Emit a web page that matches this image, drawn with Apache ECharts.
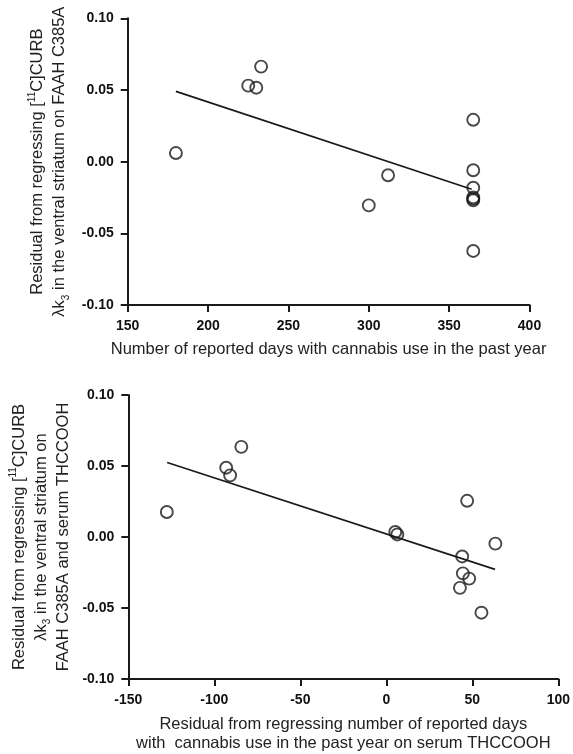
<!DOCTYPE html>
<html>
<head>
<meta charset="utf-8">
<script src="https://cdn.jsdelivr.net/npm/echarts@6/dist/echarts.min.js"></script>
<style>html,body{margin:0;padding:0;background:#fff;}#c{width:573px;height:754px;}</style>
</head>
<body>
<div id="c"></div>
<script>
// Panel A: days of cannabis use vs residual lambda k3
const daysUse = [180, 225, 230, 233, 300, 312, 365, 365, 365, 365, 365, 365, 365];
const residA  = [0.006, 0.053, 0.0516, 0.0663, -0.0305, -0.0095, 0.0292, -0.006, -0.0182, -0.025, -0.026, -0.027, -0.0623];
const fitAx = [180, 364];
const fitAy = [0.049, -0.0193];

// Panel B: residual days vs residual lambda k3
const residDays = [-127.6, -93.1, -90.8, -84.3, 5.2, 6.4, 47, 63.4, 44.1, 44.5, 48.2, 42.8, 55.3];
const residB    = [0.0176, 0.0488, 0.0434, 0.0635, 0.0035, 0.0018, 0.0255, -0.0047, -0.0137, -0.0256, -0.0293, -0.0358, -0.0533];
const fitBx = [-127.4, 63.2];
const fitBy = [0.0525, -0.0228];

const xTicksA = [150, 200, 250, 300, 350, 400];
const xTicksB = [-150, -100, -50, 0, 50, 100];
const yTicks = [-0.10, -0.05, 0.00, 0.05, 0.10];

const FONT = '"Liberation Sans", Arial, Helvetica, sans-serif';
const INK = '#1a1a1a';
const zip = (a, b) => a.map((v, i) => [v, b[i]]);

const richName = {
  t:   {fontSize: 16.5, lineHeight: 22, fontFamily: FONT, color: '#222'},
  sup: {fontSize: 10, lineHeight: 10, verticalAlign: 'top', fontFamily: FONT, color: '#222'},
  sub: {fontSize: 10, lineHeight: 10, verticalAlign: 'bottom', fontFamily: FONT, color: '#222'}
};

function xAxis(idx, ticks, name, gap, lh) {
  return {
    type: 'value', gridIndex: idx,
    min: ticks[0], max: ticks[ticks.length - 1], interval: ticks[1] - ticks[0],
    axisLine: {onZero: false, lineStyle: {color: INK, width: 2}},
    axisTick: {length: 7, lineStyle: {color: INK, width: 2}},
    splitLine: {show: false},
    axisLabel: {fontSize: 14, fontWeight: 'bold', fontFamily: FONT, color: '#111', margin: 14},
    name: name, nameLocation: 'middle', nameGap: gap,
    nameTextStyle: {fontSize: 16.5, fontFamily: FONT, color: '#222', lineHeight: lh}
  };
}
function yAxis(idx, name, gap) {
  return {
    type: 'value', gridIndex: idx,
    min: yTicks[0], max: yTicks[yTicks.length - 1], interval: 0.05,
    axisLine: {onZero: false, lineStyle: {color: INK, width: 2}},
    axisTick: {length: 7, lineStyle: {color: INK, width: 2}},
    splitLine: {show: false},
    axisLabel: {fontSize: 14, fontWeight: 'bold', fontFamily: FONT, color: '#111', margin: 14,
      formatter: v => v.toFixed(2)},
    name: name, nameLocation: 'middle', nameGap: gap, nameRotate: 90,
    nameTextStyle: {rich: richName}
  };
}
function scatter(idx, xs, ys) {
  return {
    type: 'scatter', xAxisIndex: idx, yAxisIndex: idx, data: zip(xs, ys),
    symbol: 'circle', symbolSize: 12,
    itemStyle: {color: 'rgba(0,0,0,0)', borderColor: INK, borderWidth: 1.9},
    silent: true, z: 3
  };
}
function fit(idx, xs, ys) {
  return {
    type: 'line', xAxisIndex: idx, yAxisIndex: idx, data: zip(xs, ys),
    showSymbol: false, symbol: 'none', lineStyle: {color: INK, width: 1.7},
    silent: true, z: 2
  };
}

const chart = echarts.init(document.getElementById('c'), null, {renderer: 'canvas'});
chart.setOption({
  animation: false,
  backgroundColor: '#fff',
  grid: [
    {left: 127.7, right: 43.5, top: 18.3, height: 286.7},
    {left: 127.7, right: 13, top: 395, height: 286.7}
  ],
  xAxis: [
    xAxis(0, xTicksA, 'Number of reported days with cannabis use in the past year', 35, 19),
    xAxis(1, xTicksB, 'Residual from regressing number of reported days\nwith  cannabis use in the past year on serum THCCOOH', 36, 19)
  ],
  yAxis: [
    yAxis(0, '{t|Residual from regressing [}{sup|11}{t|C]CURB}\n{t|λk}{sub|3}{t| in the ventral striatum on FAAH C385A}', 52),
    yAxis(1, '{t|Residual from regressing [}{sup|11}{t|C]CURB}\n{t|λk}{sub|3}{t| in the ventral striatum on}\n{t|FAAH C385A and serum THCCOOH}', 48)
  ],
  series: [
    scatter(0, daysUse, residA), fit(0, fitAx, fitAy),
    scatter(1, residDays, residB), fit(1, fitBx, fitBy)
  ]
});
</script>
</body>
</html>
